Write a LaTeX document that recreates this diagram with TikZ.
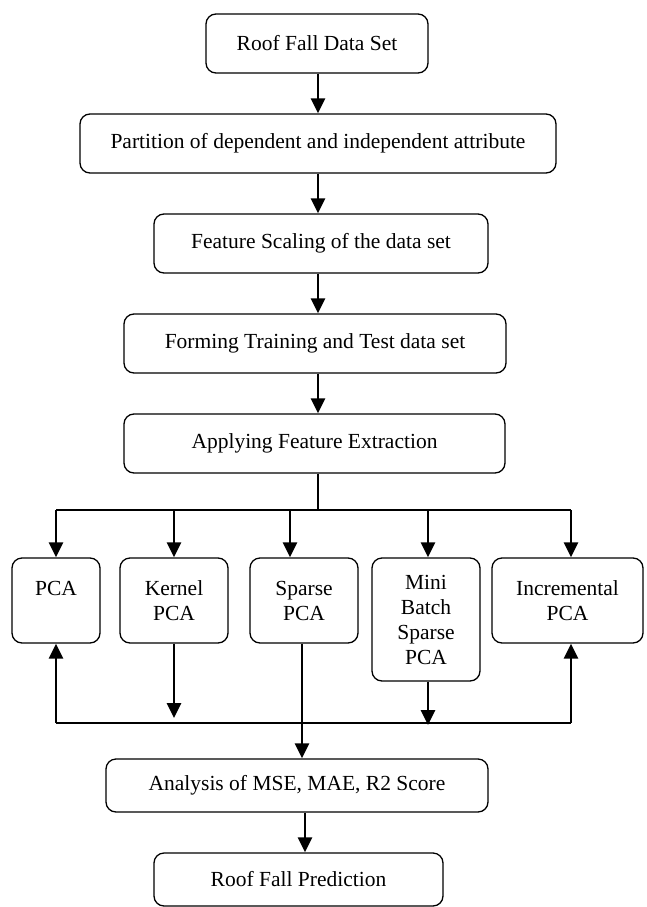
\documentclass[tikz,border=0pt]{standalone}
\usepackage{fontspec}
\setmainfont{Liberation Serif}
\usetikzlibrary{arrows.meta}
\begin{document}
\begin{tikzpicture}[x=1pt,y=-1pt,
  box/.style={draw, line width=1.3pt, rounded corners=10pt, align=center,
    inner sep=0pt, font=\fontsize{21.5}{25}\selectfont},
  conn/.style={line width=2.8pt},
  arr/.style={conn, -{Triangle[length=15pt,width=14pt]}}]
\useasboundingbox (0,0) rectangle (647,907);
% main chain
\node[box, minimum width=222pt, minimum height=59pt] (n1) at (317,43.5) {Roof Fall Data Set};
\node[box, minimum width=476pt, minimum height=59pt] (n2) at (318,143.5) {Partition of dependent and independent attribute};
\node[box, minimum width=334pt, minimum height=59pt] (n3) at (321,243.5) {Feature Scaling of the data set};
\node[box, minimum width=382pt, minimum height=59pt] (n4) at (315,343.5) {Forming Training and Test data set};
\node[box, minimum width=381pt, minimum height=59pt] (n5) at (314.5,443.5) {Applying Feature Extraction};
% methods
\node[box, minimum width=88pt, minimum height=85pt] (pca) at (56,600.5) {PCA\\ \mbox{}};
\node[box, minimum width=108pt, minimum height=85pt] (kpca) at (174,600.5) {Kernel\\PCA};
\node[box, minimum width=108pt, minimum height=85pt] (spca) at (304,600.5) {Sparse\\PCA};
\node[box, minimum width=108pt, minimum height=123pt] (mpca) at (426,619.5) {Mini\\Batch\\Sparse\\PCA};
\node[box, minimum width=151pt, minimum height=85pt] (ipca) at (567.5,600.5) {Incremental\\PCA};
% results
\node[box, minimum width=382pt, minimum height=53pt] (ana) at (297,785.5) {Analysis of MSE, MAE, R2 Score};
\node[box, minimum width=289pt, minimum height=53pt] (pred) at (298.5,879.5) {Roof Fall Prediction};
% helper coordinates
\coordinate (xm) at (318,0);
\coordinate (busL) at (56,510);
\coordinate (busR) at (571,510);
\coordinate (botL) at (56,723);
\coordinate (botR) at (571,723);
\coordinate (kend) at (174,718);
\coordinate (mend) at (428,725);
% chain arrows
\draw[arr] (n1.south -| xm) -- (n2.north -| xm);
\draw[arr] (n2.south -| xm) -- (n3.north -| xm);
\draw[arr] (n3.south -| xm) -- (n4.north -| xm);
\draw[arr] (n4.south -| xm) -- (n5.north -| xm);
% distribution bus
\draw[conn] (n5.south -| xm) -- (xm |- busL);
\draw[conn] (busL) -- (busR);
\draw[arr] (busL) -- (pca.north -| busL);
\draw[arr] (busL -| 174,0) -- (kpca.north -| 174,0);
\draw[arr] (busL -| 290,0) -- (spca.north -| 290,0);
\draw[arr] (busL -| 428,0) -- (mpca.north -| 428,0);
\draw[arr] (busR) -- (ipca.north -| busR);
% collection bus
\draw[conn] (botL) -- (botR);
\draw[arr] (botL) -- (pca.south -| botL);
\draw[arr] (botR) -- (ipca.south -| botR);
\draw[arr] (kpca.south) -- (kend);
\draw[arr] (mpca.south -| mend) -- (mend);
\draw[arr] (spca.south -| 302,0) -- (ana.north -| 302,0);
\draw[arr] (ana.south -| 305,0) -- (pred.north -| 305,0);
\end{tikzpicture}
\end{document}
